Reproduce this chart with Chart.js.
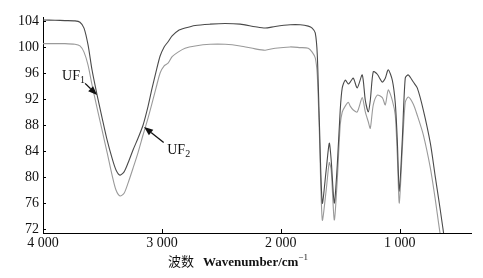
<!DOCTYPE html>
<html><head><meta charset="utf-8">
<script src="https://cdn.jsdelivr.net/npm/chart.js@4"></script>
<style>html,body{margin:0;padding:0;background:#fff;}canvas{display:block;}</style>
</head><body>
<canvas id="c" width="483" height="278"></canvas>
<script>
// Wavenumbers (cm^-1)
const wavenumbers = [4000,3899,3815,3731,3689,3655,3621,3588,3545,3503,3461,3419,3386,3352,3318,3284,3242,3200,3158,3116,3082,3049,3015,2981,2948,2914,2864,2805,2720,2594,2468,2342,2215,2131,2047,1921,1837,1769,1736,1710,1693,1676,1651,1618,1592,1576,1550,1525,1500,1483,1458,1432,1416,1390,1357,1315,1289,1264,1247,1222,1188,1146,1121,1096,1062,1037,1020,1003,978,953,927,885,852,801,742,700,658,616];
// Transmittance of UF1 (darker, upper curve)
const uf1 = [104.15,104.1,104.05,104.0,103.8,102.9,100.3,96.5,92.6,89.1,85.7,82.9,81.1,80.3,80.8,82.2,84.2,86.0,88.0,90.9,93.7,96.2,98.6,100.0,100.8,101.7,102.5,102.9,103.3,103.5,103.6,103.5,103.1,102.9,103.15,103.4,103.4,103.2,102.9,102.15,98.8,88.8,76.0,81.1,85.2,82.6,76.0,81.8,90.3,93.7,94.9,94.3,94.6,95.2,93.7,95.7,91.8,90.0,91.8,96.2,95.8,94.6,95.2,96.5,94.9,91.4,85.7,77.8,85.7,95.2,95.7,94.6,93.7,90.3,85.2,80.0,74.9,69.5];
// Transmittance of UF2 (lighter, lower curve)
const uf2 = [100.5,100.5,100.5,100.4,100.15,99.2,97.2,94.2,90.6,87.2,83.8,80.3,78.0,77.1,77.5,79.1,81.4,83.8,86.5,89.1,91.4,93.7,96.0,97.1,97.5,98.5,99.2,99.8,100.15,100.4,100.4,100.15,99.7,99.5,99.8,100.0,99.9,99.8,99.2,98.3,95.7,87.2,73.4,78.0,82.2,81.1,73.4,79.5,88.0,90.0,90.9,91.5,90.9,90.3,90.0,92.2,90.0,88.5,87.5,91.1,92.6,92.2,91.1,93.4,91.8,89.5,83.4,76.0,84.2,91.5,92.3,91.2,89.5,86.5,81.4,76.5,71.1,67.2];
const xTicks = [4000,3000,2000,1000];
const yTicks = [72,76,80,84,88,92,96,100,104];
const seriesNames = ['UF1','UF2'];

const serif = '"Liberation Serif", "DejaVu Serif", serif';

function fmtX(v){ return String(v).replace(/(\d)(\d{3})$/, '$1 $2'); }

const decorPlugin = {
  id: 'decor',
  afterDraw(chart){
    const ctx = chart.ctx, xs = chart.scales.x, ys = chart.scales.y, a = chart.chartArea;
    ctx.save();
    ctx.strokeStyle = '#000'; ctx.lineWidth = 1;
    // inward tick marks
    ctx.beginPath();
    yTicks.forEach(v => { const y = Math.round(ys.getPixelForValue(v)) + 0.5; ctx.moveTo(a.left, y); ctx.lineTo(a.left + 3, y); });
    xTicks.forEach(v => { const x = Math.round(xs.getPixelForValue(v)) + 0.5; ctx.moveTo(x, a.bottom); ctx.lineTo(x, a.bottom - 4); });
    ctx.stroke();

    // labels with arrows
    function label(name, sub, wx, wy){
      const x = xs.getPixelForValue(wx), y = ys.getPixelForValue(wy);
      ctx.fillStyle = '#111'; ctx.textBaseline = 'alphabetic'; ctx.textAlign = 'left';
      ctx.font = '14px ' + serif; ctx.fillText(name, x, y);
      const w = ctx.measureText(name).width;
      ctx.font = '10px ' + serif; ctx.fillText(sub, x + w, y + 3);
    }
    function arrow(x1w, y1w, x2w, y2w){
      const x1 = xs.getPixelForValue(x1w), y1 = ys.getPixelForValue(y1w);
      const x2 = xs.getPixelForValue(x2w), y2 = ys.getPixelForValue(y2w);
      const ang = Math.atan2(y2 - y1, x2 - x1), L = 9, W = 3.5;
      const bx = x2 - L * Math.cos(ang), by = y2 - L * Math.sin(ang);
      ctx.strokeStyle = '#111'; ctx.fillStyle = '#111'; ctx.lineWidth = 1.3;
      ctx.beginPath(); ctx.moveTo(x1, y1); ctx.lineTo(bx, by); ctx.stroke();
      ctx.beginPath(); ctx.moveTo(x2, y2);
      ctx.lineTo(bx + W * Math.sin(ang), by - W * Math.cos(ang));
      ctx.lineTo(bx - W * Math.sin(ang), by + W * Math.cos(ang));
      ctx.closePath(); ctx.fill();
    }
    label('UF', '1', 3840, 94.9);
    arrow(3646, 94.4, 3545, 92.6);
    label('UF', '2', 2955, 83.6);
    arrow(2985, 85.3, 3150, 87.7);

    // axis title
    const cx = (a.left + a.right) / 2 - 19, ty = 266;
    ctx.fillStyle = '#111'; ctx.textAlign = 'left'; ctx.textBaseline = 'alphabetic';
    const p1 = '波数', p2 = 'Wavenumber/cm', p3 = '−1';
    ctx.font = '13px "Noto Sans CJK SC"'; const w1 = ctx.measureText(p1).width;
    ctx.font = 'bold 13px ' + serif; const w2 = ctx.measureText(p2).width;
    ctx.font = '9px ' + serif; const w3 = ctx.measureText(p3).width;
    const gap = 9, total = w1 + gap + w2 + w3;
    let x = cx - total / 2;
    ctx.font = '13px "Noto Sans CJK SC"'; ctx.fillText(p1, x, ty); x += w1 + gap;
    ctx.font = 'bold 13px ' + serif; ctx.fillText(p2, x, ty); x += w2;
    ctx.font = '9px ' + serif; ctx.fillText(p3, x, ty - 6);
    ctx.restore();
  }
};

new Chart(document.getElementById('c'), {
  type: 'line',
  data: {
    datasets: [
      { label: seriesNames[0], data: wavenumbers.map((w, i) => ({x: w, y: uf1[i]})), borderColor: '#4a4a4a', borderWidth: 1.1, pointRadius: 0, tension: 0.25, fill: false },
      { label: seriesNames[1], data: wavenumbers.map((w, i) => ({x: w, y: uf2[i]})), borderColor: '#9a9a9a', borderWidth: 1.1, pointRadius: 0, tension: 0.25, fill: false }
    ]
  },
  options: {
    responsive: false, animation: false,
    layout: { padding: { top: 17, right: 12, left: 0, bottom: 0 } },
    plugins: { legend: { display: false }, tooltip: { enabled: false } },
    scales: {
      x: {
        type: 'linear', reverse: true, min: 400, max: 4000,
        afterBuildTicks: s => { s.ticks = xTicks.map(v => ({value: v})); },
        afterFit: s => { s.height = 45; },
        grid: { display: true, drawOnChartArea: false, drawTicks: false },
        border: { display: true, color: '#000', width: 1 },
        ticks: { padding: 2, color: '#111', font: { family: serif, size: 14 }, maxRotation: 0, autoSkip: false, callback: v => fmtX(v) }
      },
      y: {
        type: 'linear', min: 71.4, max: 104.6,
        afterBuildTicks: s => { s.ticks = yTicks.map(v => ({value: v})); },
        afterFit: s => { s.width = 43; },
        grid: { display: true, drawOnChartArea: false, drawTicks: false },
        border: { display: true, color: '#000', width: 1 },
        ticks: { padding: 4, color: '#111', font: { family: serif, size: 14 }, callback: v => String(v) }
      }
    }
  },
  plugins: [decorPlugin]
});
</script>
</body></html>
